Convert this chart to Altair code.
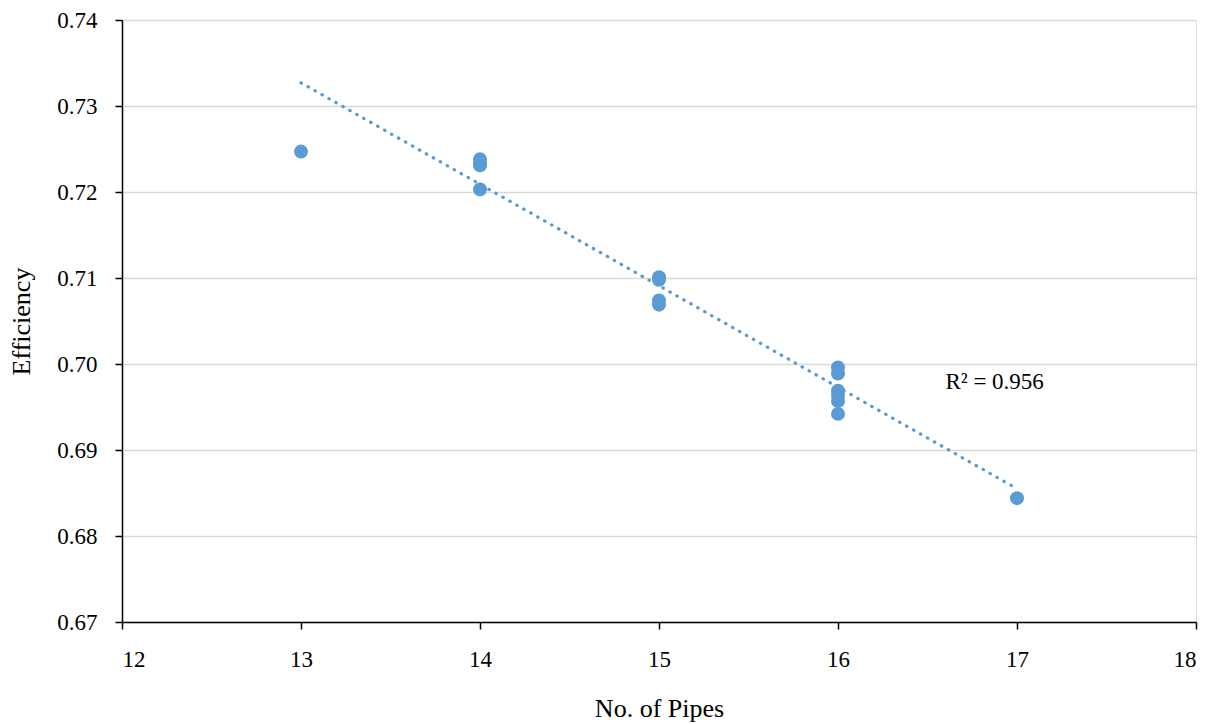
import altair as alt
import pandas as pd

pipes = [13, 14, 14, 14, 14, 15, 15, 15, 15, 16, 16, 16, 16, 16, 16, 17]
efficiency = [0.7247, 0.7238, 0.7233, 0.7231, 0.7203,
              0.7101, 0.7098, 0.7074, 0.7069,
              0.6996, 0.6989, 0.6969, 0.6964, 0.6957, 0.6942,
              0.6844]

trend_x = [13, 17]
trend_y = [0.7327, 0.6855]

label_x = [16.6]
label_y = [0.6979]
label_text = ["R² = 0.956"]

pts = pd.DataFrame({"x": pipes, "y": efficiency})
trend = pd.DataFrame({"x": trend_x, "y": trend_y})
lab = pd.DataFrame({"x": label_x, "y": label_y, "t": label_text})

color = "#5B9BD5"
font = "Liberation Serif"

xscale = alt.Scale(domain=[12, 18], nice=False, zero=False)
yscale = alt.Scale(domain=[0.67, 0.74], nice=False, zero=False)

xenc = alt.X("x:Q", scale=xscale,
             axis=alt.Axis(title="No. of Pipes", values=[12, 13, 14, 15, 16, 17, 18],
                           format="d", grid=False, domainColor="black", domainWidth=1.5,
                           tickColor="black", tickWidth=1.5, tickSize=7,
                           labelFont=font, labelFontSize=23, labelColor="black",
                           labelPadding=19, titleFont=font, titleFontSize=26,
                           titleFontWeight="normal", titleColor="black", titlePadding=24))
yenc = alt.Y("y:Q", scale=yscale,
             axis=alt.Axis(title="Efficiency", values=[0.67, 0.68, 0.69, 0.70, 0.71, 0.72, 0.73, 0.74],
                           format=".2f", grid=True, gridColor="#d9d9d9", gridWidth=1.5,
                           domainColor="black", domainWidth=1.5, tickColor="black",
                           tickWidth=1.5, tickSize=7,
                           labelFont=font, labelFontSize=23, labelColor="black",
                           labelPadding=18, titleFont=font, titleFontSize=26,
                           titleFontWeight="normal", titleColor="black", titlePadding=22))

points = alt.Chart(pts).mark_circle(size=195, color=color, opacity=1).encode(x=xenc, y=yenc)
line = alt.Chart(trend).mark_line(color=color, strokeWidth=3.2, strokeDash=[0.5, 7.5],
                                   strokeCap="round").encode(x="x:Q", y="y:Q")
text = alt.Chart(lab).mark_text(align="left", baseline="middle", font=font, fontSize=23,
                                color="black").encode(x="x:Q", y="y:Q", text="t:N")

chart = alt.layer(line, points, text).properties(
    width=1074, height=602,
    autosize=alt.AutoSizeParams(type="none"),
    padding={"left": 114, "top": 12, "right": 11, "bottom": 100},
).configure_view(stroke=None).configure(background="white")

chart.save("out.html", embed_options={"renderer": "svg", "actions": False})
